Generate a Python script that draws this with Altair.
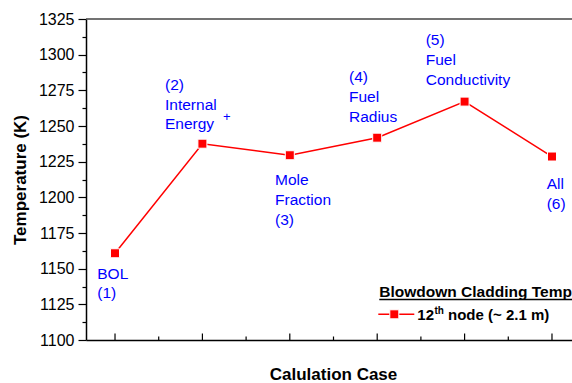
import altair as alt
import pandas as pd

# ---- data ----
cases = [1, 2, 3, 4, 5, 6]
temps = [1160.8, 1237.6, 1229.5, 1241.8, 1267.1, 1228.6]

ann_text = ["BOL\n(1)", "(2)\nInternal\nEnergy", "Mole\nFraction\n(3)",
            "(4)\nFuel\nRadius", "(5)\nFuel\nConductivity", "All\n(6)"]
ann_case = [0.797, 1.572, 2.831, 3.677, 4.555, 5.939]
ann_temp = [1143.0, 1275.4, 1208.4, 1280.8, 1306.5, 1206.0]

plus_case = [2.278]
plus_temp = [1256.5]

x_major = [1, 2, 3, 4, 5, 6]
x_minor = [1.5, 2.5, 3.5, 4.5, 5.5]
y_ticks = [1100, 1112.5, 1125, 1137.5, 1150, 1162.5, 1175, 1187.5, 1200,
           1212.5, 1225, 1237.5, 1250, 1262.5, 1275, 1287.5, 1300, 1312.5, 1325]

legend_title = "Blowdown Cladding Temp"
legend_label_a = "12"
legend_label_sup = "th"
legend_label_b = "node (~ 2.1 m)"

# ---- layout ----
W, H = 486, 321
FONT = "Liberation Sans"
RED = "#ff0000"
BLUE = "#0000ff"

xs = alt.Scale(domain=[0.668, 6.229], nice=False, zero=False)
ys = alt.Scale(domain=[1100, 1325], nice=False, zero=False)

df = pd.DataFrame({"case": cases, "temp": temps})
ann_df = pd.DataFrame({"case": ann_case, "temp": ann_temp, "text": ann_text})
plus_df = pd.DataFrame({"case": plus_case, "temp": plus_temp, "text": ["+"]})
xmaj_df = pd.DataFrame({"case": x_major})
xmin_df = pd.DataFrame({"case": x_minor})
one = pd.DataFrame({"a": [0]})

x_axis = alt.Axis(
    title="Calulation Case", labels=False, ticks=False, grid=False,
    domainColor="black", domainWidth=1.5,
    titleFont=FONT, titleFontSize=17, titleFontWeight="bold", titleColor="black",
    titleX=247, titleY=34, titleAlign="center", titleBaseline="middle",
)
y_axis = alt.Axis(
    title="Temperature (K)", values=y_ticks, grid=False, format="d",
    labelExpr="datum.value % 25 === 0 ? datum.label : ''",
    tickSize={"condition": {"test": "datum.value % 25 === 0", "value": 8}, "value": 4},
    tickColor="black", tickWidth=1.2,
    domainColor="black", domainWidth=1.5,
    labelFont=FONT, labelFontSize=16, labelColor="black", labelPadding=4,
    labelOverlap=False, labelFlush=False,
    titleFont=FONT, titleFontSize=17, titleFontWeight="bold", titleColor="black",
    titleX=-66, titleY=160.5, titleAngle=270, titleAlign="center", titleBaseline="middle",
)


def X():
    return alt.X("case:Q", scale=xs, axis=x_axis)


def Y():
    return alt.Y("temp:Q", scale=ys, axis=y_axis)


line = alt.Chart(df).mark_line(color=RED, strokeWidth=1.5).encode(x=X(), y=Y())
pts = alt.Chart(df).mark_square(size=81, fill=RED, stroke="white", strokeWidth=1,
                                opacity=1, filled=True).encode(x=X(), y=Y())

ann = alt.Chart(ann_df).mark_text(
    align="left", baseline="alphabetic", lineBreak="\n", lineHeight=19.8,
    font=FONT, fontSize=15.5, color=BLUE,
).encode(x=X(), y=Y(), text="text:N")
plus = alt.Chart(plus_df).mark_text(
    align="center", baseline="middle", font=FONT, fontSize=13, color=BLUE,
).encode(x=X(), y=Y(), text="text:N")

# inward x ticks
xmaj = alt.Chart(xmaj_df).mark_rule(color="black", strokeWidth=1.2).encode(
    x=X(), y=alt.value(H), y2=alt.value(H - 6.5))
xmin = alt.Chart(xmin_df).mark_rule(color="black", strokeWidth=1.2).encode(
    x=X(), y=alt.value(H), y2=alt.value(H - 3.5))

# top frame line
top = alt.Chart(one).mark_rule(color="#444444", strokeWidth=1.5).encode(
    x=alt.value(0), x2=alt.value(W), y=alt.value(0))

# legend (drawn by hand)
bold = dict(align="left", baseline="alphabetic", font=FONT, fontWeight="bold", color="black")
lg_title = alt.Chart(pd.DataFrame({"t": [legend_title]})).mark_text(fontSize=15.5, **bold).encode(
    text="t:N", x=alt.value(293.3), y=alt.value(277.7))
lg_under = alt.Chart(one).mark_rule(color="black", strokeWidth=1.5).encode(
    x=alt.value(293.3), x2=alt.value(W), y=alt.value(280.5))
lg_line = alt.Chart(one).mark_rule(color=RED, strokeWidth=1.5).encode(
    x=alt.value(292.3), x2=alt.value(328.3), y=alt.value(295.3))
lg_sq = alt.Chart(one).mark_square(size=81, fill=RED, stroke="white", strokeWidth=1,
                                   opacity=1, filled=True).encode(
    x=alt.value(308.3), y=alt.value(295.3))
lg_a = alt.Chart(pd.DataFrame({"t": [legend_label_a]})).mark_text(fontSize=15, **bold).encode(
    text="t:N", x=alt.value(331.3), y=alt.value(301))
lg_sup = alt.Chart(pd.DataFrame({"t": [legend_label_sup]})).mark_text(fontSize=10, **bold).encode(
    text="t:N", x=alt.value(348.5), y=alt.value(294.5))
lg_b = alt.Chart(pd.DataFrame({"t": [legend_label_b]})).mark_text(fontSize=15, **bold).encode(
    text="t:N", x=alt.value(362), y=alt.value(301))

chart = alt.layer(
    line, pts, ann, plus, xmaj, xmin, top,
    lg_title, lg_under, lg_line, lg_sq, lg_a, lg_sup, lg_b,
).properties(
    width=W, height=H,
    padding={"left": 86, "top": 19, "right": 0, "bottom": 43},
    autosize=alt.AutoSizeParams(type="none"),
    background="white",
).configure_view(stroke=None)

chart.save("out.html", embed_options={"renderer": "svg", "actions": False})
